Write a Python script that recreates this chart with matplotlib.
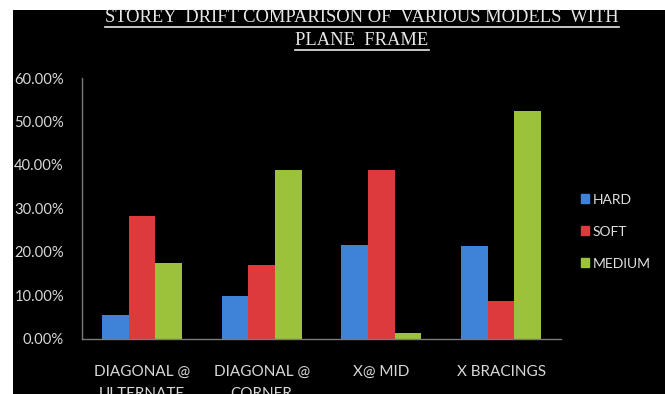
import matplotlib
matplotlib.use("Agg")
import matplotlib.pyplot as plt
import numpy as np
from matplotlib.patches import Rectangle
from matplotlib.lines import Line2D

categories = ["DIAGONAL @\nULTERNATE", "DIAGONAL @\nCORNER", "X@ MID", "X BRACINGS"]
series_names = ["HARD", "SOFT", "MEDIUM"]
hard = [0.054, 0.097, 0.215, 0.213]
soft = [0.282, 0.170, 0.389, 0.086]
medium = [0.173, 0.388, 0.013, 0.525]
yticks = [0.0, 0.1, 0.2, 0.3, 0.4, 0.5, 0.6]
ytick_labels = ["0.00%", "10.00%", "20.00%", "30.00%", "40.00%", "50.00%", "60.00%"]
title_lines = ["STOREY  DRIFT COMPARISON OF  VARIOUS MODELS  WITH", "PLANE  FRAME"]

colors = ["#3f83d8", "#dc3a3c", "#9cc23c"]
W, H = 665, 394
fig = plt.figure(figsize=(W / 100, H / 100), dpi=100)
fig.patch.set_facecolor("white")
# black panel (white strip on left and top)
bg = Rectangle((13 / W, 0), 1, (H - 10) / H, transform=fig.transFigure,
               facecolor="black", edgecolor="none", zorder=-10)
fig.add_artist(bg)

ax = fig.add_axes([82 / W, (H - 338.5) / H, (561 - 82) / W, (338.5 - 78) / H])
ax.set_zorder(1)
ax.set_facecolor("black")
x = np.arange(len(categories))
bw = 0.222
for i, (vals, c, name) in enumerate(zip([hard, soft, medium], colors, series_names)):
    ax.bar(x + (i - 1) * bw, vals, bw, color=c, label=name, zorder=2)

ax.set_xlim(-0.5, len(categories) - 0.5)
ax.set_ylim(0, 0.6)
ax.set_yticks(yticks)
ax.set_yticklabels(ytick_labels)
ax.set_xticks(x)
ax.set_xticklabels(categories, linespacing=1.75)
ax.tick_params(axis="y", colors="#d8d8d8", labelsize=10.6, length=0, pad=13)
ax.tick_params(axis="x", colors="#d8d8d8", labelsize=11, length=0, pad=19)
for lab in ax.get_xticklabels() + ax.get_yticklabels():
    lab.set_fontfamily("Lato")
for s in ["top", "right"]:
    ax.spines[s].set_visible(False)
for s in ["left", "bottom"]:
    ax.spines[s].set_color("#7a7a7a")
    ax.spines[s].set_linewidth(1)

leg = fig.legend(handles=[Rectangle((0, 0), 1, 1, color=c) for c in colors], labels=series_names,
                 loc="upper left", bbox_to_anchor=(568 / W, 1 - 181 / H),
                 frameon=False, handlelength=0.6, handleheight=0.6, handletextpad=0.3,
                 labelspacing=1.45, prop={"family": "Lato", "size": 10})
for t in leg.get_texts():
    t.set_color("#e0e0e0")

# title with underline
tys = [17.5, 40.5]
texts = []
for line, ty in zip(title_lines, tys):
    t = fig.text(362 / W, 1 - ty / H, line, ha="center", va="center", color="#e8e8e8",
                 family="Liberation Serif", fontsize=13.3)
    texts.append(t)
fig.canvas.draw()
r = fig.canvas.get_renderer()
for t in texts:
    bb = t.get_window_extent(r)
    yb = bb.y0 - 0.5
    fig.add_artist(Line2D([bb.x0 / W, bb.x1 / W], [yb / H, yb / H], transform=fig.transFigure,
                          color="#e8e8e8", linewidth=1.2))

fig.savefig("out.png", dpi=100, facecolor=fig.get_facecolor())
